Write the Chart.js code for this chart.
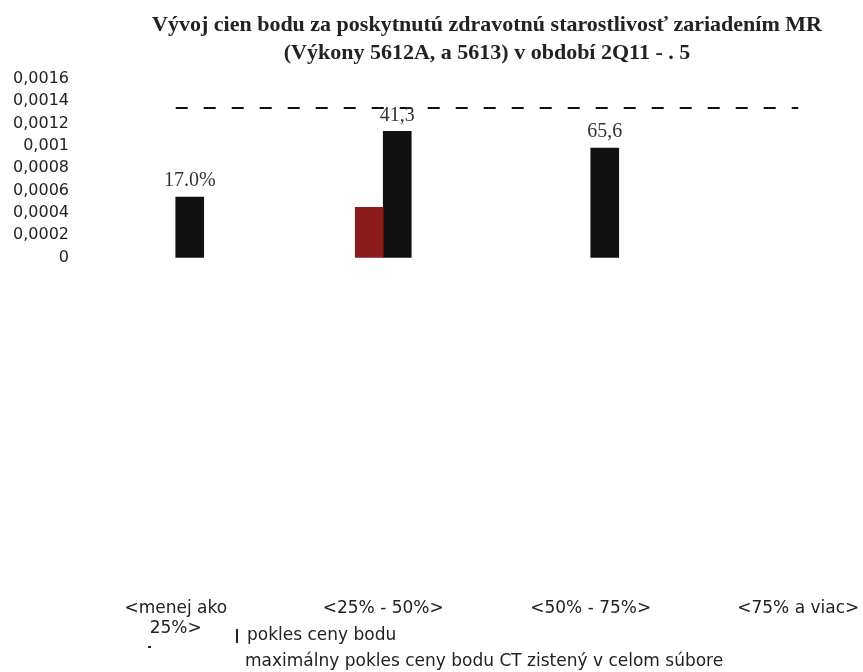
<!DOCTYPE html>
<html>
<head>
<meta charset="utf-8">
<script src="https://cdn.jsdelivr.net/npm/chart.js@4/dist/chart.umd.min.js"></script>
<style>
  html, body { margin: 0; padding: 0; background: #fff; }
  #wrap { position: relative; width: 863px; height: 672px; overflow: hidden; }
  #c { position: absolute; left: 0; top: 0; }
  #title { position: absolute; left: 87px; width: 800px; top: 10px; text-align: center;
           font-family: "Liberation Serif", serif; font-weight: bold; font-size: 22px;
           line-height: 28px; color: #222; }
  .leg { position: absolute; font-family: "DejaVu Sans", sans-serif; font-size: 17px; color: #222; white-space: nowrap; }
  .mk { position: absolute; background: #222; }
</style>
</head>
<body>
<div id="wrap">
  <canvas id="c" width="905" height="672"></canvas>
  <div id="title"></div>
  <div class="mk" style="left:236px; top:629px; width:2px; height:14px;"></div>
  <div class="mk" style="left:148px; top:646px; width:3px; height:2px;"></div>
  <div class="leg" id="leg1" style="left:247px; top:624px;"></div>
  <div class="leg" id="leg2" style="left:245px; top:650px;"></div>
</div>
<script>
const titleLines = ['Vývoj cien bodu za poskytnutú zdravotnú starostlivosť zariadením MR',
                    '(Výkony 5612A, a 5613) v období 2Q11 - . 5'];
const categories = [['<menej ako', '25%>'], '<25% - 50%>', '<50% - 75%>', '<75% a viac>'];
const poklesValues = [0.00054, 0.00113, 0.00098, null];
const poklesRedValues = [null, 0.00045, null, null];
const maxValues = [0.00134, 0.00134, 0.00134, 0.00134];
const valueLabels = ['17.0%', '41,3', '65,6', ''];
const yTickValues = [0, 0.0002, 0.0004, 0.0006, 0.0008, 0.001, 0.0012, 0.0014, 0.0016];
const legendLabels = ['pokles ceny bodu', 'maximálny pokles ceny bodu CT zistený v celom súbore'];

document.getElementById('title').innerHTML = titleLines.join('<br>');
document.getElementById('leg1').textContent = legendLabels[0];
document.getElementById('leg2').textContent = legendLabels[1];

const labelPlugin = {
  id: 'valueLabels',
  afterDatasetsDraw(chart) {
    const meta = chart.getDatasetMeta(1);
    const ctx = chart.ctx;
    ctx.save();
    ctx.font = '20px "Liberation Serif", serif';
    ctx.fillStyle = '#333';
    ctx.textAlign = 'center';
    ctx.textBaseline = 'bottom';
    meta.data.forEach((bar, i) => {
      if (!valueLabels[i] || bar.y == null || isNaN(bar.y)) return;
      ctx.fillText(valueLabels[i], bar.x, bar.y - 6);
    });
    ctx.restore();
  }
};

new Chart(document.getElementById('c'), {
  type: 'bar',
  data: {
    labels: categories,
    datasets: [
      { label: 'pokles ceny bodu (max)', data: poklesRedValues, backgroundColor: '#8B1A1A', barThickness: 28, order: 2 },
      { label: legendLabels[0], data: poklesValues, backgroundColor: '#111', barThickness: 28, order: 2 },
      { type: 'line', label: legendLabels[1], data: maxValues, borderColor: '#111', borderWidth: 2,
        borderDash: [12, 16], pointRadius: 0, fill: false, order: 1 }
    ]
  },
  options: {
    responsive: false,
    devicePixelRatio: 1,
    animation: false,
    layout: { padding: { top: 79, left: 10, right: 3, bottom: 30 } },
    plugins: { legend: { display: false }, title: { display: false }, tooltip: { enabled: false } },
    scales: {
      x: {
        grid: { display: false, drawTicks: false },
        border: { display: false },
        ticks: { color: '#222', font: { family: '"DejaVu Sans", sans-serif', size: 17 }, padding: 3, maxRotation: 0, autoSkip: false }
      },
      y: {
        min: -0.00303,
        max: 0.0016,
        grid: { display: false, drawTicks: false },
        border: { display: false },
        afterBuildTicks(scale) { scale.ticks = yTickValues.map(v => ({ value: v })); },
        ticks: {
          color: '#222',
          font: { family: '"DejaVu Sans", sans-serif', size: 16 },
          padding: 3,
          callback: (v) => (v === 0 ? '0' : String(Number(v.toFixed(4))).replace('.', ','))
        }
      }
    }
  },
  plugins: [labelPlugin]
});
</script>
</body>
</html>
